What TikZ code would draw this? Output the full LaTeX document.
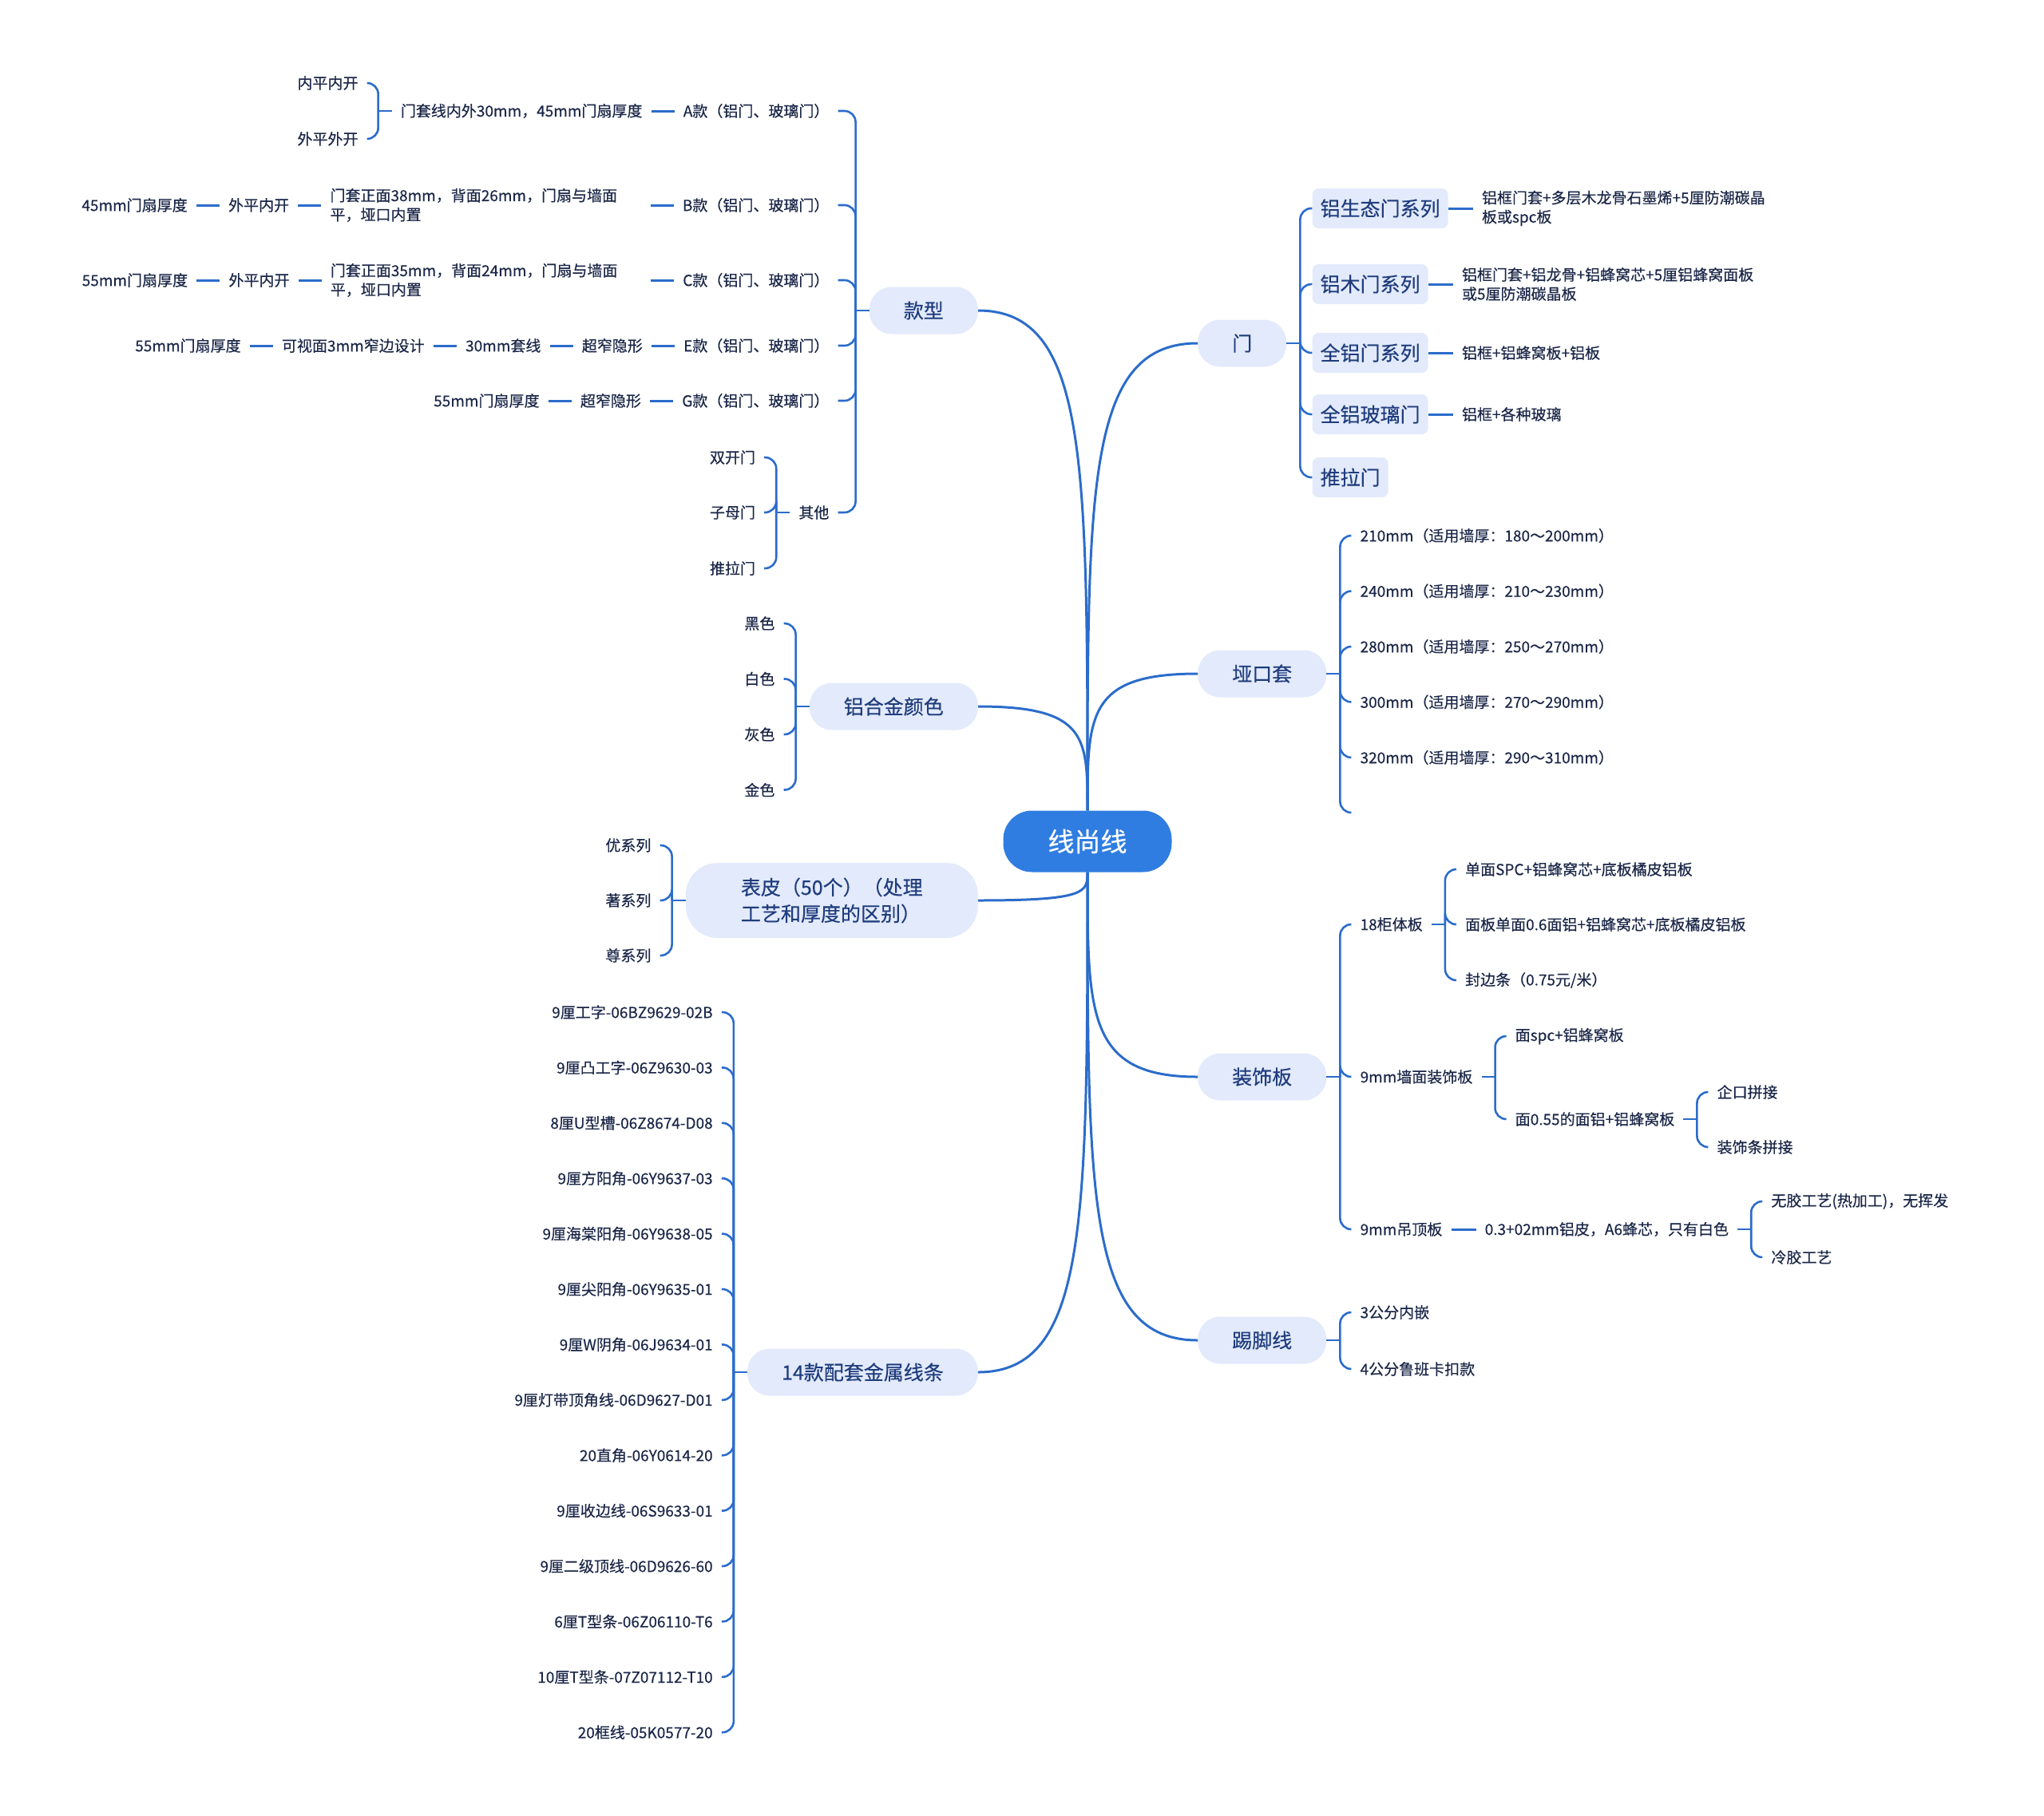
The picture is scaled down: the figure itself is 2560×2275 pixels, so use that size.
\documentclass[tikz,border=0pt]{standalone}
\usepackage{fontspec}
\setmainfont{Noto Sans CJK SC}[FakeBold=0.35]
\usetikzlibrary{positioning,calc}

\definecolor{rootblue}{HTML}{2F7DE1}
\definecolor{linkblue}{HTML}{2B6CCB}
\definecolor{topicfill}{HTML}{E2EAFB}
\definecolor{topictext}{HTML}{1F3C7C}
\definecolor{leaftext}{HTML}{1B2748}

\begin{document}
\begin{tikzpicture}[
  x=1pt, y=-1pt,
  node distance = 29pt,
  rootnode/.style = {rectangle, rounded corners=36pt, fill=rootblue, text=white,
                     minimum width=211pt, minimum height=77pt,
                     font=\fontsize{33}{40}\selectfont},
  topic/.style    = {rectangle, rounded corners=28pt, fill=topicfill, text=topictext,
                     inner xsep=43pt, minimum height=59pt,
                     font=\fontsize{25}{33}\selectfont},
  subtopic/.style = {topic, rounded corners=8pt, inner xsep=10pt, minimum height=50pt},
  leaf/.style     = {text=leaftext, inner xsep=11pt, inner ysep=3pt, align=left,
                     font=\fontsize{19}{24}\selectfont},
  branch/.style   = {draw=linkblue, line width=3pt},
  twig/.style     = {draw=linkblue, line width=2.6pt, rounded corners=14pt},
  trunk/.style    = {to path={.. controls (\tikztostart -| \tikztotarget)
                     and ($(\tikztotarget)!0.7!(\tikztostart -| \tikztotarget)$) .. (\tikztotarget)}}
]
\useasboundingbox (0,0) rectangle (2560,2275);

\node[rootnode] (root) at (1362,1054) {线尚线};

\node[topic, anchor=east] (kx) at (1225,389)  {款型};
\node[topic, anchor=east] (ys) at (1225,885)  {铝合金颜色};
\node[topic, anchor=east, minimum width=366pt, minimum height=94pt, rounded corners=40pt,
      align=left] (bp) at (1225,1128) {表皮（50个）（处理\\工艺和厚度的区别）};
\node[topic, anchor=east] (tx) at (1225,1719) {14款配套金属线条};

\node[topic, anchor=west] (men) at (1500,430)  {门};
\node[topic, anchor=west] (yk)  at (1500,844)  {垭口套};
\node[topic, anchor=west] (zs)  at (1500,1349) {装饰板};
\node[topic, anchor=west] (tj)  at (1500,1679) {踢脚线};

\draw[branch] (kx.east)  to[trunk] (root.north);
\draw[branch] (ys.east)  to[trunk] (root.north);
\draw[branch] (bp.east)  to[trunk] (root.south);
\draw[branch] (tx.east)  to[trunk] (root.south);
\draw[branch] (men.west) to[trunk] (root.north);
\draw[branch] (yk.west)  to[trunk] (root.north);
\draw[branch] (zs.west)  to[trunk] (root.south);
\draw[branch] (tj.west)  to[trunk] (root.south);

% 款型
\coordinate (kxj) at ($(kx.west)+(-17,0)$);
\node[leaf, anchor=east] (ka) at ($(kxj)+(-22,-250)$) {A款（铝门、玻璃门）};
\node[leaf, anchor=east] (kb) at ($(kxj)+(-22,-132)$) {B款（铝门、玻璃门）};
\node[leaf, anchor=east] (kc) at ($(kxj)+(-22,-38)$)  {C款（铝门、玻璃门）};
\node[leaf, anchor=east] (ke) at ($(kxj)+(-22,44)$)   {E款（铝门、玻璃门）};
\node[leaf, anchor=east] (kg) at ($(kxj)+(-22,113)$)  {G款（铝门、玻璃门）};
\node[leaf, anchor=east] (kq) at ($(kxj)+(-22,253)$)  {其他};
\draw[twig] (kx.west) -- (kxj);
\foreach \k in {ka,kb,kc,ke,kg,kq} \draw[twig] (kxj) |- (\k.east);

\node[leaf, left=of ka] (ka1) {门套线内外30mm，45mm门扇厚度};
\coordinate (ka1j) at ($(ka1.west)+(-17,0)$);
\node[leaf, anchor=east] (ka11) at ($(ka1j)+(-14,-35)$) {内平内开};
\node[leaf, anchor=east] (ka12) at ($(ka1j)+(-14,35)$)  {外平外开};
\draw[branch] (ka.west) -- (ka1.east);
\draw[twig] (ka1.west) -- (ka1j);
\draw[twig] (ka1j) |- (ka11.east);
\draw[twig] (ka1j) |- (ka12.east);

\node[leaf, left=of kb, text width=390pt] (kb1) {门套正面38mm，背面26mm，门扇与墙面\\平，垭口内置};
\node[leaf, left=of kb1] (kb2) {外平内开};
\node[leaf, left=of kb2] (kb3) {45mm门扇厚度};
\draw[branch] (kb.west)  -- (kb1.east);
\draw[branch] (kb1.west) -- (kb2.east);
\draw[branch] (kb2.west) -- (kb3.east);

\node[leaf, left=of kc, text width=390pt] (kc1) {门套正面35mm，背面24mm，门扇与墙面\\平，垭口内置};
\node[leaf, left=of kc1] (kc2) {外平内开};
\node[leaf, left=of kc2] (kc3) {55mm门扇厚度};
\draw[branch] (kc.west)  -- (kc1.east);
\draw[branch] (kc1.west) -- (kc2.east);
\draw[branch] (kc2.west) -- (kc3.east);

\node[leaf, left=of ke]  (ke1) {超窄隐形};
\node[leaf, left=of ke1] (ke2) {30mm套线};
\node[leaf, left=of ke2] (ke3) {可视面3mm窄边设计};
\node[leaf, left=of ke3] (ke4) {55mm门扇厚度};
\draw[branch] (ke.west)  -- (ke1.east);
\draw[branch] (ke1.west) -- (ke2.east);
\draw[branch] (ke2.west) -- (ke3.east);
\draw[branch] (ke3.west) -- (ke4.east);

\node[leaf, left=of kg]  (kg1) {超窄隐形};
\node[leaf, left=of kg1] (kg2) {55mm门扇厚度};
\draw[branch] (kg.west)  -- (kg1.east);
\draw[branch] (kg1.west) -- (kg2.east);

\coordinate (kqj) at ($(kq.west)+(-17,0)$);
\node[leaf, anchor=east] (kq1) at ($(kqj)+(-15,-69)$) {双开门};
\node[leaf, anchor=east] (kq2) at ($(kqj)+(-15,0)$)   {子母门};
\node[leaf, anchor=east] (kq3) at ($(kqj)+(-15,70)$)  {推拉门};
\draw[twig] (kq.west) -- (kqj);
\foreach \i in {1,2,3} \draw[twig] (kqj) |- (kq\i.east);

% 铝合金颜色
\coordinate (ysj) at ($(ys.west)+(-17,0)$);
\foreach \t [count=\i] in {黑色,白色,灰色,金色}
  \node[leaf, anchor=east] (ys\i) at ($(ysj)+(-15,{(\i-1)*69.5-104})$) {\t};
\draw[twig] (ys.west) -- (ysj);
\foreach \i in {1,...,4} \draw[twig] (ysj) |- (ys\i.east);

% 表皮
\coordinate (bpj) at ($(bp.west)+(-17,0)$);
\foreach \t [count=\i] in {优系列,著系列,尊系列}
  \node[leaf, anchor=east] (bp\i) at ($(bpj)+(-15,{(\i-2)*69})$) {\t};
\draw[twig] (bp.west) -- (bpj);
\foreach \i in {1,2,3} \draw[twig] (bpj) |- (bp\i.east);

% 14款配套金属线条
\coordinate (txj) at ($(tx.west)+(-17,0)$);
\foreach \t [count=\i] in {9厘工字-06BZ9629-02B,%
    9厘凸工字-06Z9630-03,%
    8厘U型槽-06Z8674-D08,%
    9厘方阳角-06Y9637-03,%
    9厘海棠阳角-06Y9638-05,%
    9厘尖阳角-06Y9635-01,%
    9厘W阴角-06J9634-01,%
    9厘灯带顶角线-06D9627-D01,%
    20直角-06Y0614-20,%
    9厘收边线-06S9633-01,%
    9厘二级顶线-06D9626-60,%
    6厘T型条-06Z06110-T6,%
    10厘T型条-07Z07112-T10,%
    20框线-05K0577-20}
  \node[leaf, anchor=east] (tx\i) at ($(txj)+(-15,{(\i-1)*69.4-451})$) {\t};
\draw[twig] (tx.west) -- (txj);
\foreach \i in {1,...,14} \draw[twig] (txj) |- (tx\i.east);

% 门
\coordinate (menj) at ($(men.east)+(17,0)$);
\node[subtopic, anchor=west] (m1) at ($(menj)+(15,-169)$) {铝生态门系列};
\node[subtopic, anchor=west] (m2) at ($(menj)+(15,-74)$)  {铝木门系列};
\node[subtopic, anchor=west] (m3) at ($(menj)+(15,12)$)   {全铝门系列};
\node[subtopic, anchor=west] (m4) at ($(menj)+(15,89)$)   {全铝玻璃门};
\node[subtopic, anchor=west] (m5) at ($(menj)+(15,168)$)  {推拉门};
\draw[twig] (men.east) -- (menj);
\foreach \i in {1,...,5} \draw[twig] (menj) |- (m\i.west);

\node[leaf, right=31pt of m1] (m1a) {铝框门套+多层木龙骨石墨烯+5厘防潮碳晶\\板或spc板};
\node[leaf, right=31pt of m2] (m2a) {铝框门套+铝龙骨+铝蜂窝芯+5厘铝蜂窝面板\\或5厘防潮碳晶板};
\node[leaf, right=31pt of m3] (m3a) {铝框+铝蜂窝板+铝板};
\node[leaf, right=31pt of m4] (m4a) {铝框+各种玻璃};
\foreach \i in {1,...,4} \draw[branch] (m\i.east) -- (m\i a.west);

% 垭口套
\coordinate (ykj) at ($(yk.east)+(17,0)$);
\foreach \t [count=\i] in {210mm（适用墙厚：180～200mm）,%
    240mm（适用墙厚：210～230mm）,%
    280mm（适用墙厚：250～270mm）,%
    300mm（适用墙厚：270～290mm）,%
    320mm（适用墙厚：290～310mm）}
  \node[leaf, anchor=west] (yk\i) at ($(ykj)+(14,{(\i-1)*69.5-173})$) {\t};
\coordinate (yk6) at ($(ykj)+(14,174)$);
\draw[twig] (yk.east) -- (ykj);
\foreach \i in {1,...,5} \draw[twig] (ykj) |- (yk\i.west);
\draw[twig] (ykj) |- (yk6);

% 装饰板
\coordinate (zsj) at ($(zs.east)+(17,0)$);
\node[leaf, anchor=west] (z1) at ($(zsj)+(14,-191)$) {18柜体板};
\node[leaf, anchor=west] (z2) at ($(zsj)+(14,0)$)    {9mm墙面装饰板};
\node[leaf, anchor=west] (z3) at ($(zsj)+(14,191)$)  {9mm吊顶板};
\draw[twig] (zs.east) -- (zsj);
\foreach \i in {1,2,3} \draw[twig] (zsj) |- (z\i.west);

\coordinate (z1j) at ($(z1.east)+(17,0)$);
\node[leaf, anchor=west] (z11) at ($(z1j)+(14,-69)$) {单面SPC+铝蜂窝芯+底板橘皮铝板};
\node[leaf, anchor=west] (z12) at ($(z1j)+(14,0)$)   {面板单面0.6面铝+铝蜂窝芯+底板橘皮铝板};
\node[leaf, anchor=west] (z13) at ($(z1j)+(14,70)$)  {封边条（0.75元/米）};
\draw[twig] (z1.east) -- (z1j);
\foreach \i in {1,2,3} \draw[twig] (z1j) |- (z1\i.west);

\coordinate (z2j) at ($(z2.east)+(17,0)$);
\node[leaf, anchor=west] (z21) at ($(z2j)+(14,-51)$) {面spc+铝蜂窝板};
\node[leaf, anchor=west] (z22) at ($(z2j)+(14,53)$)  {面0.55的面铝+铝蜂窝板};
\draw[twig] (z2.east) -- (z2j);
\foreach \i in {1,2} \draw[twig] (z2j) |- (z2\i.west);

\coordinate (z22j) at ($(z22.east)+(17,0)$);
\node[leaf, anchor=west] (z221) at ($(z22j)+(14,-34)$) {企口拼接};
\node[leaf, anchor=west] (z222) at ($(z22j)+(14,35)$)  {装饰条拼接};
\draw[twig] (z22.east) -- (z22j);
\foreach \i in {1,2} \draw[twig] (z22j) |- (z22\i.west);

\node[leaf, right=31pt of z3] (z31) {0.3+02mm铝皮，A6蜂芯，只有白色};
\draw[branch] (z3.east) -- (z31.west);
\coordinate (z31j) at ($(z31.east)+(17,0)$);
\node[leaf, anchor=west] (z311) at ($(z31j)+(14,-35)$) {无胶工艺(热加工)，无挥发};
\node[leaf, anchor=west] (z312) at ($(z31j)+(14,35)$)  {冷胶工艺};
\draw[twig] (z31.east) -- (z31j);
\foreach \i in {1,2} \draw[twig] (z31j) |- (z31\i.west);

% 踢脚线
\coordinate (tjj) at ($(tj.east)+(17,0)$);
\node[leaf, anchor=west] (tj1) at ($(tjj)+(14,-35)$) {3公分内嵌};
\node[leaf, anchor=west] (tj2) at ($(tjj)+(14,36)$)  {4公分鲁班卡扣款};
\draw[twig] (tj.east) -- (tjj);
\foreach \i in {1,2} \draw[twig] (tjj) |- (tj\i.west);

\end{tikzpicture}
\end{document}
